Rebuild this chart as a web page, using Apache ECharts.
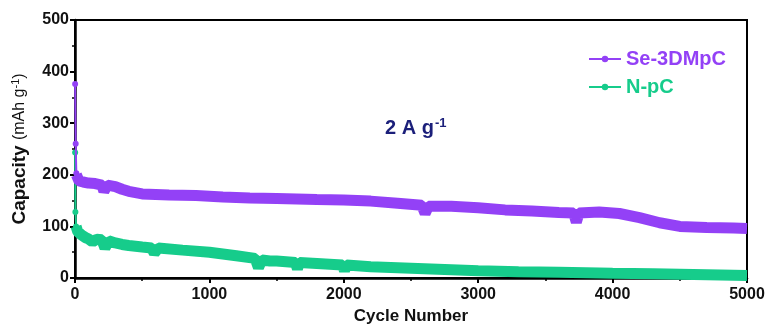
<!DOCTYPE html>
<html><head><meta charset="utf-8">
<script src="https://cdn.jsdelivr.net/npm/echarts@6/dist/echarts.min.js"></script>
<style>html,body{margin:0;padding:0;background:#fff}#c{width:773px;height:324px}</style>
</head><body><div id="c"></div>
<script>
const xTicks = [0, 1000, 2000, 3000, 4000, 5000];
const yTicks = [0, 100, 200, 300, 400, 500];
const seriesNames = ['Se-3DMpC', 'N-pC'];
// Se-3DMpC
const seSpikeCycles = [1, 5, 10];
const seSpikeCap = [376, 260, 203];
const seCycles = [10, 30, 60, 100, 150, 200, 215, 240, 300, 350, 400, 500, 700, 900, 1100, 1300, 1500, 1800, 2000, 2200, 2400, 2580, 2605, 2630, 2800, 3000, 3200, 3400, 3600, 3710, 3730, 3750, 3900, 4050, 4200, 4350, 4500, 4700, 4900, 5000];
const seCap = [200, 188, 186, 184, 183, 180, 168, 180, 177, 172, 168, 163, 161, 160, 157, 155, 154, 152, 151, 149, 145, 141, 125, 139, 139, 136, 132, 130, 127, 126, 108, 126, 128, 125, 117, 107, 100, 98, 97, 96];
// N-pC
const npSpikeCycles = [1, 3, 8];
const npSpikeCap = [243, 128, 100];
const npCycles = [8, 20, 50, 80, 100, 130, 160, 200, 223, 250, 300, 350, 400, 500, 570, 590, 620, 800, 1000, 1200, 1340, 1365, 1390, 1450, 1500, 1640, 1655, 1670, 1800, 1990, 2005, 2020, 2200, 2500, 2800, 3000, 3300, 3600, 4000, 4300, 4600, 5000];
const npCap = [100, 90, 83, 78, 76, 70, 75, 74, 58, 72, 68, 65, 63, 60, 58, 48, 58, 54, 50, 43, 38, 20, 35, 33, 33, 30, 18, 30, 28, 25, 14, 25, 22, 19, 16, 14, 12, 11, 9, 8, 7, 5];
const colors = ['#9341f6', '#16cc8b'];

const zip = (a, b) => a.map((v, i) => [v, b[i]]);
const chart = echarts.init(document.getElementById('c'));
const font = '"Liberation Sans", Arial, sans-serif';
const navy = '#1b1f7a';
chart.setOption({
  animation: false,
  grid: {left: 75, right: 26, top: 20, bottom: 46, outerBoundsMode: 'none', containLabel: false,
         show: true, borderColor: '#000', borderWidth: 2, backgroundColor: 'transparent'},
  legend: {
    orient: 'vertical', left: 583, top: 44, itemGap: 8, itemWidth: 32, itemHeight: 8,
    data: seriesNames.map((n, i) => ({name: n, textStyle: {color: colors[i]}})),
    textStyle: {fontFamily: font, fontWeight: 'bold', fontSize: 20}
  },
  graphic: [{type: 'text', left: 385, top: 117, style: {
    text: '{a|2 A g}{s|-1}', fill: navy, rich: {
      a: {fontFamily: font, fontWeight: 'bold', fontSize: 20, fill: navy},
      s: {fontFamily: font, fontWeight: 'bold', fontSize: 13, fill: navy, verticalAlign: 'top', padding: [0, 0, 10, 1]}
    }}}],
  xAxis: {
    type: 'value', min: 0, max: 5000, interval: 1000,
    name: 'Cycle Number', nameLocation: 'middle', nameGap: 27,
    nameTextStyle: {fontFamily: font, fontWeight: 'bold', fontSize: 17, color: '#111'},
    axisLine: {lineStyle: {color: '#000', width: 2.5}},
    axisTick: {show: true, length: 5, lineStyle: {width: 2, color: '#000'}},
    minorTick: {show: true, splitNumber: 2, length: 3, lineStyle: {color: '#000', width: 1.5}},
    splitLine: {show: false},
    axisLabel: {fontFamily: font, fontWeight: 'bold', fontSize: 16, color: '#111', margin: 9,
      formatter: v => xTicks.includes(v) ? String(v) : ''}
  },
  yAxis: {
    type: 'value', min: 0, max: 500, interval: 100,
    name: '{a|Capacity }{b|(mAh g}{s|-1}{b|)}', nameLocation: 'middle', nameGap: 46,
    nameTextStyle: {fontFamily: font, color: '#111',
      rich: {a: {fontFamily: font, fontWeight: 'bold', fontSize: 19, color: '#111'},
             b: {fontFamily: font, fontSize: 16, color: '#111'},
             s: {fontFamily: font, fontSize: 11, color: '#111', verticalAlign: 'top', padding: [0, 0, 8, 0]}}},
    axisLine: {lineStyle: {color: '#000', width: 2.5}},
    axisTick: {show: true, length: 5, lineStyle: {width: 2, color: '#000'}},
    minorTick: {show: true, splitNumber: 2, length: 3, lineStyle: {color: '#000', width: 1.5}},
    splitLine: {show: false},
    axisLabel: {fontFamily: font, fontWeight: 'bold', fontSize: 16, color: '#111', margin: 6,
      formatter: v => yTicks.includes(v) ? String(v) : ''}
  },
  series: [
    {name: seriesNames[0], type: 'line', data: zip(seCycles, seCap), symbol: 'circle', symbolSize: 6, showSymbol: false,
     itemStyle: {color: colors[0]}, lineStyle: {width: 11, color: colors[0]}, z: 3},
    {name: seriesNames[0], type: 'line', data: zip(seSpikeCycles, seSpikeCap), symbol: 'circle', symbolSize: 6, showSymbol: true,
     itemStyle: {color: colors[0]}, lineStyle: {width: 2, color: colors[0]}, z: 3},
    {name: seriesNames[1], type: 'line', data: zip(npCycles, npCap), symbol: 'circle', symbolSize: 6, showSymbol: false,
     itemStyle: {color: colors[1]}, lineStyle: {width: 11, color: colors[1]}, z: 2},
    {name: seriesNames[1], type: 'line', data: zip(npSpikeCycles, npSpikeCap), symbol: 'circle', symbolSize: 6, showSymbol: true,
     itemStyle: {color: colors[1]}, lineStyle: {width: 2, color: colors[1]}, z: 2}
  ]
});
</script></body></html>
